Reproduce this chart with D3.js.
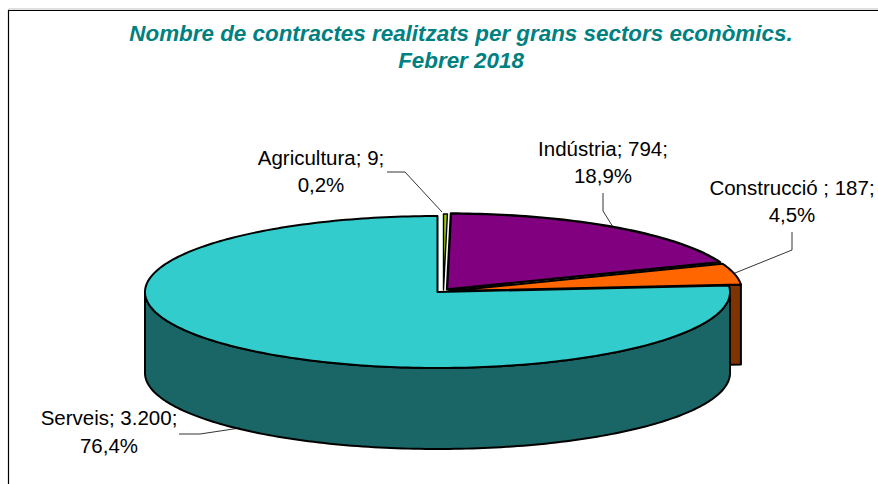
<!DOCTYPE html>
<html><head><meta charset="utf-8">
<script src="https://cdn.jsdelivr.net/npm/d3@7/dist/d3.min.js"></script>
<style>html,body{margin:0;padding:0;background:#fff}svg{display:block}text{font-family:"Liberation Sans",Arial,sans-serif}</style>
</head><body><svg id="c" width="878" height="484"></svg>
<script>
const categories = ["Agricultura","Indústria","Construcció ","Serveis"];
const values = [9,794,187,3200];
const percentLabels = ["0,2%","18,9%","4,5%","76,4%"];
const valueLabels = ["9","794","187","3.200"];
const topColors = ["#99cc00","#800080","#ff6600","#33cccc"];
const sideColors = ["#4d6600","#400040","#7f3300","#1a6666"];
const titleLines = ["Nombre de contractes realitzats per grans sectors econòmics.","Febrer 2018"];

const W=878,H=484;
const rx=292.5, ry=76, depth=81;
// exploded centres of the slices
const centres=[[443.5,290],[447,289.5],[449.5,291],[437.5,292]];
const svg=d3.select("#c");
svg.append("rect").attr("width",W).attr("height",H).attr("fill","#fff");
// frame
svg.append("path").attr("d","M8.5,484V9H878").attr("fill","none").attr("stroke","#c0c0c0").attr("stroke-width",1);
svg.append("path").attr("d","M8.5,484V10.5H878").attr("fill","none").attr("stroke","#000").attr("stroke-width",1.2);

const arcs=d3.pie().value(d=>d).sort(null)(values);
const pt=(c,t,dy=0)=>[c[0]+rx*Math.sin(t),c[1]-ry*Math.cos(t)+dy];
const sampleArc=(c,a,b,dy=0)=>{const n=Math.max(2,Math.ceil(Math.abs(b-a)/0.02));return d3.range(n+1).map(i=>pt(c,a+(b-a)*i/n,dy));};
const line=d3.line();
const g=svg.append("g").attr("stroke","#000").attr("stroke-linejoin","round");

function wedge(i){const c=centres[i],a=arcs[i];return line([c,...sampleArc(c,a.startAngle,a.endAngle)])+"Z";}

// cut face of Construcció
{const c=centres[2],e=arcs[2].endAngle,p=pt(c,e);
 g.append("path").attr("d",line([p,[p[0],p[1]+depth-1],[c[0],c[1]+depth-1],c])+"Z").attr("fill",sideColors[2]).attr("stroke-width",2);}
// top faces behind
g.append("path").attr("d",wedge(2)).attr("fill",topColors[2]).attr("stroke-width",2);
g.append("path").attr("d",wedge(1)).attr("fill",topColors[1]).attr("stroke-width",2.4);
g.append("path").attr("d",wedge(0)).attr("fill",topColors[0]).attr("stroke-width",1.4);
// Serveis wall (visible outer wall, front half)
{const c=centres[3],top=sampleArc(c,Math.PI/2,3*Math.PI/2),bot=sampleArc(c,3*Math.PI/2,Math.PI/2,depth);
 g.append("path").attr("d",line([...top,...bot])+"Z").attr("fill",sideColors[3]).attr("stroke-width",2);}
g.append("path").attr("d",wedge(3)).attr("fill",topColors[3]).attr("stroke-width",2);

// labels and leader lines
const labelSpec=[
 {x:321,y:[165,192],leader:[[387,172],[405,172],[442,212]]},
 {x:603,y:[156,183],leader:[[603,193],[603,211],[613,227]]},
 {x:792,y:[195,222],leader:[[792,232],[792,250],[735,273]]},
 {x:109,y:[425,453],leader:[[179,434],[200,434],[240,428]]}];
const labels=svg.append("g").attr("font-size",20.5).attr("fill","#000").attr("text-anchor","middle");
labelSpec.forEach((s,i)=>{
 labels.append("text").attr("x",s.x).attr("y",s.y[0]).text(`${categories[i]}; ${valueLabels[i]};`);
 labels.append("text").attr("x",s.x).attr("y",s.y[1]).text(percentLabels[i]);
 svg.append("path").attr("d",line(s.leader)).attr("fill","none").attr("stroke","#000").attr("stroke-width",0.8);
});
// title
const t=svg.append("g").attr("font-size",22.4).attr("font-weight","bold").attr("font-style","italic").attr("fill","#008080").attr("text-anchor","middle");
titleLines.forEach((l,i)=>t.append("text").attr("x",461).attr("y",[41,68][i]).text(l));
</script></body></html>
